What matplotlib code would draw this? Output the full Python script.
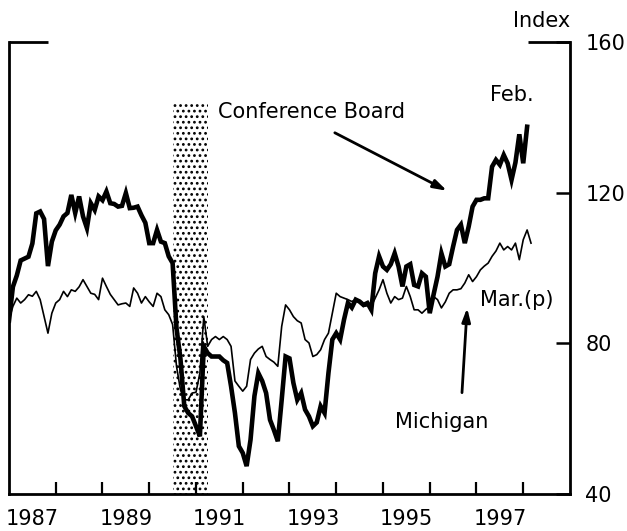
import numpy as np
import matplotlib
matplotlib.use("Agg")
import matplotlib.pyplot as plt
from matplotlib.ticker import FixedLocator, NullFormatter, FixedFormatter

plt.rcParams['font.family'] = ['DejaVu Sans']
plt.rcParams['hatch.linewidth'] = 1.2

# ---- data (monthly, Jan 1987 onward) ----
conference_board = [
    # 1987
    86, 95, 98, 102, 102.5, 103, 106.5, 114.5, 115, 113, 100.5, 107,
    # 1988
    110, 111.5, 113.7, 114.6, 119.4, 114.6, 119, 113.7, 110.6, 117.2, 115.4, 119,
    # 1989
    118, 120.3, 117.2, 117, 116.3, 116.5, 119.9, 115.9, 116, 116.3, 114, 112,
    # 1990
    106.6, 106.6, 110.1, 107, 106.6, 103.1, 101.3, 84, 76, 63.3, 61.5, 60.6,
    # 1991
    58, 55.3, 79.2, 77.4, 76.5, 76.5, 76.5, 75.5, 74.8, 68.6, 61.5, 52.7,
    # 1992
    50.9, 47.4, 54.4, 66, 72.1, 70, 66.8, 59.7, 57, 54, 65, 76.5,
    # 1993
    76, 69.5, 65, 66.8, 62.4, 60.6, 58, 59, 63.3, 61.5, 72.1, 81,
    # 1994
    82.7, 81, 86.3, 90.7, 89.5, 91.6, 91.1, 90.2, 90.7, 88.9, 98.6, 103.1,
    # 1995
    100.4, 99.5, 101, 103.9, 100.4, 95.1, 100.4, 101, 95.5, 95.1, 98.6, 97.7,
    # 1996
    88, 93, 97.7, 103.9, 100.4, 101, 105.7, 110.1, 111.5, 106.6, 111, 116.3,
    # 1997
    118.1, 118.1, 118.5, 118.5, 126.9, 128.7, 127.4, 130, 127.8, 123.4, 128, 135.5,
    # 1998
    127.8, 137.5,
]

michigan = [
    # 1987
    86.3, 89.8, 92, 90.7, 91.6, 92.9, 92.5, 93.8, 91.6, 87.1, 82.7, 88,
    # 1988
    90.7, 91.6, 93.8, 92.4, 94.2, 93.8, 95, 96.9, 95.1, 93.3, 93, 91.6,
    # 1989
    97.3, 95.1, 93, 91.6, 90.2, 90.5, 90.7, 89.8, 94.7, 93.3, 90.7, 92.4,
    # 1990
    91, 89.8, 93.3, 92.4, 88.9, 87.6, 85, 73.9, 67.7, 65, 65, 66.8,
    # 1991
    67, 72.1, 87.1, 79.2, 81, 81.8, 81, 81.8, 81, 79.2, 70, 68.6,
    # 1992
    67.3, 68.6, 75.7, 77.4, 78.5, 79.2, 76.5, 75.7, 75, 73.9, 84.5, 90.2,
    # 1993
    88.9, 87.1, 86, 85.4, 81, 80.1, 76.5, 77, 78.3, 81, 82.7, 88,
    # 1994
    93.3, 92.4, 92, 91.6, 91.1, 91.6, 90.7, 89.8, 90, 89.8, 92, 94.2,
    # 1995
    96.9, 93.3, 90.7, 92.4, 91.6, 92, 95.1, 92.4, 88.9, 88.9, 88, 89,
    # 1996
    89.8, 92.4, 91.6, 89.4, 91, 93.3, 94.2, 94.2, 94.5, 96, 98.2, 96.4,
    # 1997
    97.7, 99.5, 100.5, 101.3, 103.1, 104.5, 106.6, 104.8, 105.7, 104.8, 106.6, 102.2,
    # 1998
    107.5, 110.1, 106.6,
]

start_year = 1987
recession = (1990.5, 1991.25)
year_labels = ['1987', '1989', '1991', '1993', '1995', '1997']
y_ticks = [40, 80, 120, 160]

cb_x = start_year + np.arange(len(conference_board)) / 12.0
mi_x = start_year + np.arange(len(michigan)) / 12.0

fig = plt.figure(figsize=(6.27, 5.31), dpi=100)
ax = fig.add_axes([0.01435, 0.0697, 0.8947, 0.8512])
ax.set_xlim(1987, 1999)
ax.set_ylim(40, 160)

# recession shading
ax.fill_between(list(recession), 40, 144, facecolor='white', edgecolor='black',
                hatch='...', linewidth=0, zorder=1)

ax.plot(mi_x, michigan, color='black', lw=1.2, zorder=3)
ax.plot(cb_x, conference_board, color='black', lw=3.3, zorder=4,
        solid_joinstyle='miter')

# spines
for s in ['left', 'right', 'bottom']:
    ax.spines[s].set_linewidth(2.0)
ax.spines['top'].set_visible(False)
ax.plot([0, 0.07], [1, 1], transform=ax.transAxes, color='black', lw=2.0,
        clip_on=False, solid_capstyle='butt')
ax.plot([0.925, 1.0], [1, 1], transform=ax.transAxes, color='black', lw=2.0,
        clip_on=False, solid_capstyle='butt')

# x ticks
ax.xaxis.set_major_locator(FixedLocator(list(range(1988, 1999))))
ax.xaxis.set_major_formatter(NullFormatter())
ax.xaxis.set_minor_locator(FixedLocator([int(y) + 0.5 for y in year_labels]))
ax.xaxis.set_minor_formatter(FixedFormatter(year_labels))
ax.tick_params(axis='x', which='major', direction='in', length=8.5, width=1.6)
ax.tick_params(axis='x', which='minor', direction='in', length=0, pad=11,
               labelsize=15)

# y ticks on right
ax.yaxis.tick_right()
ax.set_yticks(y_ticks)
ax.set_yticklabels([str(v) for v in y_ticks])
ax.tick_params(axis='y', which='major', direction='in', length=10, width=1.8,
               pad=11, labelsize=15, left=False)

# annotations
ax.text(1999.0, 165.6, 'Index', ha='right', va='center', fontsize=15,
        clip_on=False)
ax.text(1991.47, 141.4, 'Conference Board', ha='left', va='center', fontsize=15)
ax.annotate('', xy=(1996.37, 120.5), xytext=(1993.97, 135.9),
            arrowprops=dict(arrowstyle='-|>,head_length=0.8,head_width=0.25',
                            color='black', lw=2.0, shrinkA=0, shrinkB=0))
ax.text(1997.29, 146.0, 'Feb.', ha='left', va='center', fontsize=15)
ax.text(1997.07, 91.6, 'Mar.(p)', ha='left', va='center', fontsize=15)
ax.text(1995.26, 59.2, 'Michigan', ha='left', va='center', fontsize=15)
ax.annotate('', xy=(1996.80, 89.4), xytext=(1996.69, 66.9),
            arrowprops=dict(arrowstyle='-|>,head_length=0.8,head_width=0.25',
                            color='black', lw=2.0, shrinkA=0, shrinkB=0))

fig.savefig('out.png', dpi=100)
